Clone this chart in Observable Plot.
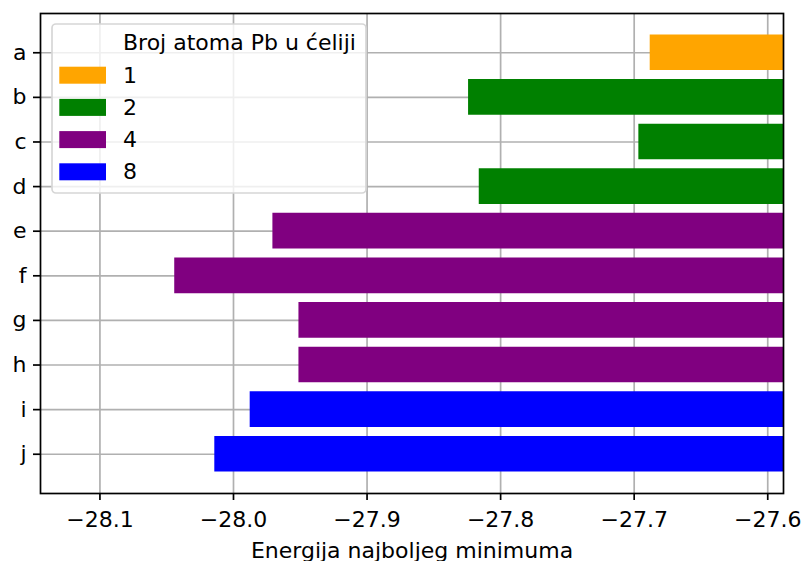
<!DOCTYPE html>
<html>
<head>
<meta charset="utf-8">
<script src="https://cdn.jsdelivr.net/npm/d3@7"></script>
<script src="https://cdn.jsdelivr.net/npm/@observablehq/plot@0.6"></script>
<style>
  html, body { margin: 0; padding: 0; background: white; }
  #wrap { position: relative; width: 803px; height: 561px; }
  #legend { position: absolute; left: 0; top: 0; pointer-events: none; }
</style>
</head>
<body>
<div id="wrap"></div>
<script>
// ---- data ----
const names = ["a", "b", "c", "d", "e", "f", "g", "h", "i", "j"];
const energies = [-27.688, -27.824, -27.6965, -27.816, -27.9705, -28.044, -27.951, -27.951, -27.9875, -28.014];
const atoms = [1, 2, 2, 2, 4, 4, 4, 4, 8, 8];
const groups = [1, 2, 4, 8];
const groupColors = ["#FFA500", "#008000", "#800080", "#0000FF"];
const xTicks = [-28.1, -28.0, -27.9, -27.8, -27.7, -27.6];
const xDomain = [-28.1445, -27.5882];
const xLabel = "Energija najboljeg minimuma";
const legendTitle = "Broj atoma Pb u ćeliji";

const data = names.map((n, i) => ({name: n, value: energies[i], atoms: atoms[i]}));

const FONT = "DejaVu Sans";
const FS = 22;

const chart = Plot.plot({
  width: 803,
  height: 561,
  marginTop: 13,
  marginRight: 20,
  marginBottom: 68,
  marginLeft: 40,
  style: {fontFamily: FONT, fontSize: FS + "px", background: "white", color: "black", overflow: "visible"},
  x: {domain: xDomain},
  y: {domain: names, paddingInner: 0.2, paddingOuter: 0.48, round: false},
  color: {domain: groups, range: groupColors},
  marks: [
    Plot.gridX(xTicks, {stroke: "#b0b0b0", strokeOpacity: 1, strokeWidth: 1.7}),
    Plot.gridY(names, {stroke: "#b0b0b0", strokeOpacity: 1, strokeWidth: 1.7}),
    Plot.barX(data, {x1: "value", x2: 0, y: "name", fill: "atoms", clip: true}),
    Plot.frame({stroke: "black", strokeWidth: 1.7}),
    Plot.axisX(xTicks, {tickSize: 7, tickPadding: 11, strokeWidth: 1.7, tickFormat: d3.format(".1f"), label: null}),
    Plot.axisY(names, {tickSize: 7, tickPadding: 7, strokeWidth: 1.7, label: null}),
    Plot.text([xLabel], {frameAnchor: "bottom", dy: 57, text: d => d, fontSize: FS, lineAnchor: "middle"})
  ]
});

const wrap = document.getElementById("wrap");
wrap.appendChild(chart);

// ---- legend overlay ----
const svgNS = "http://www.w3.org/2000/svg";
const leg = document.createElementNS(svgNS, "svg");
leg.setAttribute("id", "legend");
leg.setAttribute("width", 803);
leg.setAttribute("height", 561);
leg.setAttribute("font-family", FONT);
leg.setAttribute("font-size", FS);
const box = document.createElementNS(svgNS, "rect");
box.setAttribute("x", 52); box.setAttribute("y", 24);
box.setAttribute("width", 314); box.setAttribute("height", 169);
box.setAttribute("rx", 4);
box.setAttribute("fill", "white"); box.setAttribute("fill-opacity", 0.8);
box.setAttribute("stroke", "#d6d6d6"); box.setAttribute("stroke-width", 1.7);
leg.appendChild(box);
const title = document.createElementNS(svgNS, "text");
title.setAttribute("x", 123); title.setAttribute("y", 50);
title.textContent = legendTitle;
leg.appendChild(title);
groups.forEach((g, i) => {
  const y0 = 66.7 + i * 32.2;
  const r = document.createElementNS(svgNS, "rect");
  r.setAttribute("x", 59.3); r.setAttribute("y", y0);
  r.setAttribute("width", 46.7); r.setAttribute("height", 17);
  r.setAttribute("fill", groupColors[i]);
  leg.appendChild(r);
  const t = document.createElementNS(svgNS, "text");
  t.setAttribute("x", 123); t.setAttribute("y", y0 + 16);
  t.textContent = String(g);
  leg.appendChild(t);
});
wrap.appendChild(leg);
</script>
</body>
</html>
